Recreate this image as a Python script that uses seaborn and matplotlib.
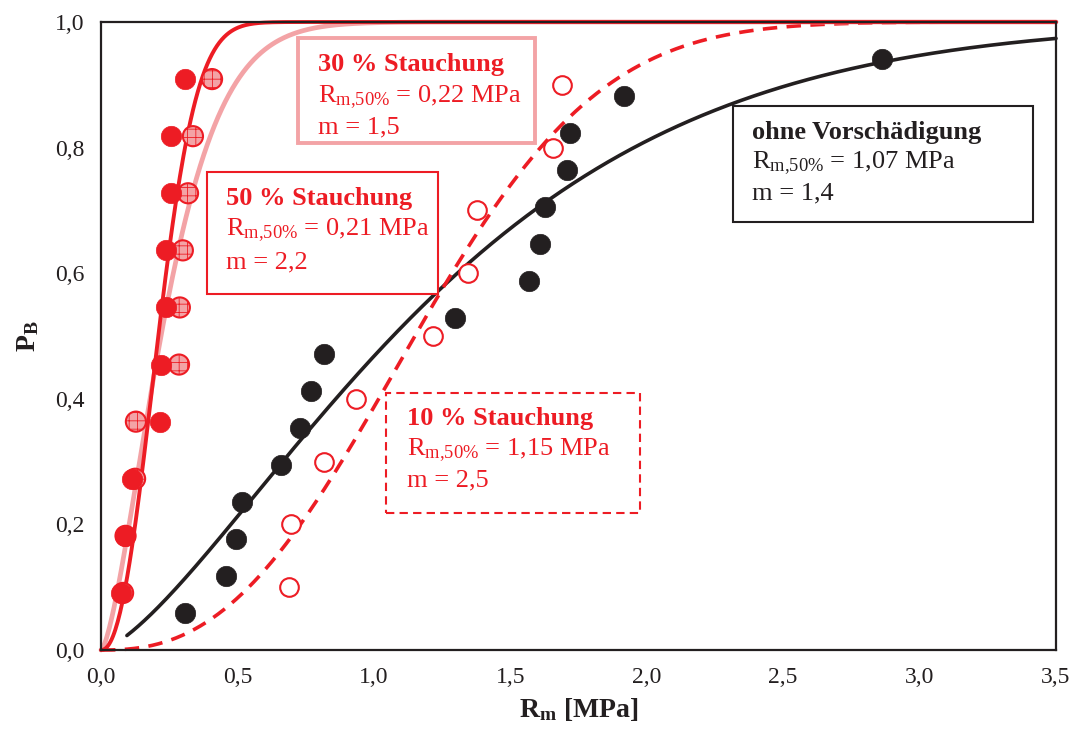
import numpy as np
import pandas as pd
import matplotlib
matplotlib.use("Agg")
import matplotlib.pyplot as plt
from matplotlib.patches import Rectangle
import seaborn as sns

# Breaking stress R_m [MPa] per specimen group, sorted; P_B = median rank i/(n+1)
rm_intact = [0.308, 0.458, 0.495, 0.517, 0.660, 0.729, 0.770, 0.817,
             1.297, 1.568, 1.609, 1.627, 1.708, 1.719, 1.916, 2.862]
rm_10 = [0.689, 0.696, 0.817, 0.934, 1.217, 1.345, 1.378, 1.656, 1.689]
rm_30 = [0.081, 0.090, 0.125, 0.128, 0.286, 0.289, 0.300, 0.319, 0.337, 0.407]
rm_50 = [0.073, 0.088, 0.114, 0.216, 0.220, 0.238, 0.238, 0.257, 0.257, 0.308]

# Weibull parameters (median strength, modulus)
groups = ["ohne Vorschädigung", "10 % Stauchung", "30 % Stauchung", "50 % Stauchung"]
r50 = [1.07, 1.15, 0.22, 0.21]
m_mod = [1.4, 2.5, 1.5, 2.2]
x_start = [0.095, 0.0, 0.0, 0.0]

RED = "#ED1C24"
BLACK = "#231F20"
PINK = "#F3A3A6"

def ranks(vals):
    n = len(vals)
    return np.arange(1, n + 1) / (n + 1)

def weibull(x, med, m):
    x0 = med / np.log(2) ** (1.0 / m)
    return 1.0 - np.exp(-(x / x0) ** m)

sns.set_theme(style="white")
plt.rcParams["font.family"] = ["Liberation Serif", "DejaVu Serif"]
plt.rcParams["mathtext.fontset"] = "custom"
plt.rcParams["mathtext.rm"] = "Liberation Serif"
plt.rcParams["mathtext.it"] = "Liberation Serif:italic"
plt.rcParams["mathtext.bf"] = "Liberation Serif:bold"
plt.rcParams["hatch.color"] = RED
plt.rcParams["hatch.linewidth"] = 0.6

fig = plt.figure(figsize=(10.72, 7.38), dpi=100)
ax = fig.add_axes([0.0942, 0.1192, 0.8909, 0.8510])

# fitted distribution curves
curve_styles = [
    dict(color=BLACK, lw=2.6, ls="-"),
    dict(color=RED, lw=2.6, ls=(0, (4, 2.6))),
    dict(color=PINK, lw=3.4, ls="-"),
    dict(color=RED, lw=2.8, ls="-"),
]
for g, med, m, xs, st in zip(groups, r50, m_mod, x_start, curve_styles):
    x = np.linspace(xs, 3.5, 800)
    df = pd.DataFrame({"Rm": x, "PB": weibull(x, med, m)})
    sns.lineplot(data=df, x="Rm", y="PB", ax=ax, color=st["color"],
                 linewidth=st["lw"], linestyle=st["ls"], clip_on=False,
                 zorder=2, legend=False)

# measured values
df_i = pd.DataFrame({"Rm": rm_intact, "PB": ranks(rm_intact)})
sns.scatterplot(data=df_i, x="Rm", y="PB", ax=ax, s=215, color=BLACK,
                edgecolor=BLACK, linewidth=0.5, zorder=3, legend=False)

df_10 = pd.DataFrame({"Rm": rm_10, "PB": ranks(rm_10)})
sns.scatterplot(data=df_10, x="Rm", y="PB", ax=ax, s=180, facecolor="white",
                edgecolor=RED, linewidth=1.5, zorder=3, legend=False)

df_30 = pd.DataFrame({"Rm": rm_30, "PB": ranks(rm_30)})
sns.scatterplot(data=df_30, x="Rm", y="PB", ax=ax, s=210, facecolor=PINK,
                edgecolor=RED, linewidth=1.5, hatch="++", zorder=3, legend=False)

df_50 = pd.DataFrame({"Rm": rm_50, "PB": ranks(rm_50)})
sns.scatterplot(data=df_50, x="Rm", y="PB", ax=ax, s=215, color=RED,
                edgecolor=RED, linewidth=0.5, zorder=4, legend=False)

# axes
ax.set_xlim(0, 3.5)
ax.set_ylim(0, 1.0)
xt = np.arange(0, 3.51, 0.5)
yt = np.arange(0, 1.01, 0.2)
ax.set_xticks(xt)
ax.set_yticks(yt)
ax.set_xticklabels([f"{v:.1f}".replace(".", ",") for v in xt], fontsize=17)
ax.set_yticklabels([f"{v:.1f}".replace(".", ",") for v in yt], fontsize=17)
ax.tick_params(axis="both", direction="out", length=6, width=1.3,
               color=BLACK, labelcolor=BLACK, pad=6)
for sp in ax.spines.values():
    sp.set_color(BLACK)
    sp.set_linewidth(1.6)
ax.set_xlabel(r"$\mathbf{R_m}$ [MPa]", fontsize=20, fontweight="bold",
              color=BLACK, labelpad=6)
ax.set_ylabel(r"$\mathbf{P_B}$", fontsize=20, fontweight="bold",
              color=BLACK, labelpad=10)

# annotation boxes (pixel frame of the axes -> axes fraction)
def fx(px):
    return (px - 101) / 955.0

def fy(py):
    return (650 - py) / 628.0

boxes = [
    dict(rect=(733, 106, 1033, 222), ec=BLACK, ls="-", lw=1.5, tx=752,
         ty=(133, 163, 193), tc=BLACK, title=groups[0], med="1,07", m="1,4"),
    dict(rect=(386, 393, 640, 513), ec=RED, ls=(0, (4, 2.5)), lw=1.5, tx=407,
         ty=(418, 450, 480), tc=RED, title=groups[1], med="1,15", m="2,5"),
    dict(rect=(298, 38, 535, 143), ec=PINK, ls="-", lw=2.8, tx=318,
         ty=(65, 97, 127), tc=RED, title=groups[2], med="0,22", m="1,5"),
    dict(rect=(207, 172, 438, 294), ec=RED, ls="-", lw=1.5, tx=226,
         ty=(198, 230, 262), tc=RED, title=groups[3], med="0,21", m="2,2"),
]
for b in boxes:
    x0, y0, x1, y1 = b["rect"]
    ax.add_patch(Rectangle((fx(x0), fy(y1)), fx(x1) - fx(x0), fy(y0) - fy(y1),
                           transform=ax.transAxes, facecolor="white",
                           edgecolor=b["ec"], linestyle=b["ls"],
                           linewidth=b["lw"], zorder=5))
    ax.text(fx(b["tx"]), fy(b["ty"][0]), b["title"], transform=ax.transAxes,
            fontsize=19, fontweight="bold", color=b["tc"], va="center",
            ha="left", zorder=6)
    ax.text(fx(b["tx"]), fy(b["ty"][1]),
            r"R$_{\mathregular{m{,}50\%}}$ = " + b["med"] + " MPa",
            transform=ax.transAxes, fontsize=19, color=b["tc"], va="center",
            ha="left", zorder=6)
    ax.text(fx(b["tx"]), fy(b["ty"][2]), "m = " + b["m"],
            transform=ax.transAxes, fontsize=19, color=b["tc"], va="center",
            ha="left", zorder=6)

fig.savefig("out.png", dpi=100)
